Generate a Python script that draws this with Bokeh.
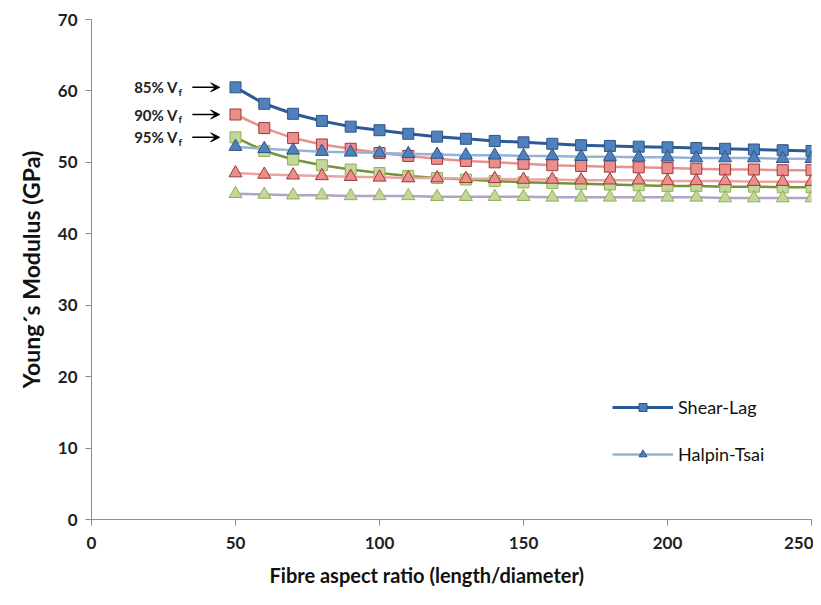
from bokeh.plotting import figure
from bokeh.models import Arrow, VeeHead, Legend, LegendItem, FixedTicker, Title
from bokeh.core.properties import value
from bokeh.embed import file_html
from bokeh.resources import INLINE

aspect_ratio = [50, 60, 70, 80, 90, 100, 110, 120, 130, 140, 150,
                160, 170, 180, 190, 200, 210, 220, 230, 240, 250]

shear_lag_85 = [60.5, 58.2, 56.8, 55.8, 55.0, 54.5, 54.0, 53.6, 53.3, 53.0, 52.8,
                52.6, 52.4, 52.3, 52.2, 52.1, 52.0, 51.9, 51.8, 51.7, 51.6]
shear_lag_90 = [56.7, 54.8, 53.4, 52.5, 51.9, 51.3, 50.9, 50.5, 50.2, 50.0, 49.8,
                49.6, 49.5, 49.4, 49.3, 49.2, 49.1, 49.0, 49.0, 48.9, 48.9]
shear_lag_95 = [53.5, 51.6, 50.4, 49.6, 49.0, 48.5, 48.1, 47.8, 47.6, 47.4, 47.2,
                47.1, 47.0, 46.9, 46.8, 46.7, 46.7, 46.6, 46.6, 46.5, 46.5]

halpin_85 = [52.2, 51.9, 51.7, 51.5, 51.4, 51.3, 51.2, 51.1, 51.0, 51.0, 50.9,
             50.9, 50.8, 50.8, 50.7, 50.7, 50.6, 50.6, 50.6, 50.5, 50.5]
halpin_90 = [48.5, 48.3, 48.2, 48.1, 48.0, 47.9, 47.8, 47.8, 47.7, 47.7, 47.6,
             47.6, 47.5, 47.5, 47.5, 47.4, 47.4, 47.4, 47.3, 47.3, 47.3]
halpin_95 = [45.6, 45.5, 45.4, 45.4, 45.3, 45.3, 45.3, 45.2, 45.2, 45.2, 45.2,
             45.1, 45.1, 45.1, 45.1, 45.1, 45.1, 45.0, 45.0, 45.0, 45.0]

fraction_labels = ["85% V", "90% V", "95% V"]
x_ticks = [0, 50, 100, 150, 200, 250]
y_ticks = [0, 10, 20, 30, 40, 50, 60, 70]
x_title = "Fibre aspect ratio (length/diameter)"
y_title = "Young\u00b4s Modulus (GPa)"

FONT = "Lato"

p = figure(width=813, height=597, x_range=(0, 250), y_range=(0, 70),
           output_backend="svg", toolbar_location=None,
           min_border_left=91, min_border_right=2, min_border_top=19, min_border_bottom=78)
p.outline_line_color = None
p.xgrid.visible = False
p.ygrid.visible = False
p.background_fill_color = "white"

for ax in (p.xaxis[0], p.yaxis[0]):
    ax.axis_line_color = "#8c8c8c"
    ax.axis_line_width = 1
    ax.major_tick_line_color = "#8c8c8c"
    ax.major_tick_out = 6
    ax.major_tick_in = 0
    ax.minor_tick_line_color = None
    ax.major_label_text_font = FONT
    ax.major_label_text_font_style = "bold"
    ax.major_label_text_font_size = "17px"
    ax.major_label_text_color = "#222222"
    ax.axis_label_text_font = FONT
    ax.axis_label_text_font_style = "bold"
    ax.axis_label_text_color = "#111111"

p.xaxis.ticker = FixedTicker(ticks=x_ticks)
p.yaxis.ticker = FixedTicker(ticks=y_ticks)
p.xaxis.major_label_standoff = 11
p.yaxis.major_label_standoff = 8
p.yaxis.axis_label = y_title
p.yaxis.axis_label_text_font_size = "23px"
p.yaxis.axis_label_standoff = 10

# x-axis title, slightly left of the frame centre as in the original
p.add_layout(Title(text=x_title, align="left", offset=178, standoff=18,
                   text_font=FONT, text_font_style="bold", text_font_size="20px",
                   text_color="#111111"), "below")

# Shear-Lag series
sl_specs = [
    (shear_lag_85, "#2c5a96", 3.0, "#4f81bd", "#2f5586"),
    (shear_lag_90, "#e8918f", 2.5, "#eb8f8d", "#9e3835"),
    (shear_lag_95, "#76933a", 2.5, "#c3d69b", "#92b050"),
]
sl_renderers = []
for ys, lc, lw, fc, mc in sl_specs:
    l = p.line(aspect_ratio, ys, line_color=lc, line_width=lw)
    s = p.scatter(aspect_ratio, ys, marker="square", size=11, fill_color=fc,
                  line_color=mc, line_width=1)
    sl_renderers.append((l, s))

# Halpin-Tsai series
ht_specs = [
    (halpin_85, "#95b3d7", "#4f81bd", "#2f5586"),
    (halpin_90, "#e9a3a2", "#eb8f8d", "#9e3835"),
    (halpin_95, "#b3a2c7", "#c3d69b", "#92b050"),
]
ht_renderers = []
for ys, lc, fc, mc in ht_specs:
    l = p.line(aspect_ratio, ys, line_color=lc, line_width=2.5)
    s = p.scatter(aspect_ratio, ys, marker="triangle", size=13, fill_color=fc,
                  line_color=mc, line_width=1)
    ht_renderers.append((l, s))

# Annotations: "xx% Vf" with arrows pointing at the first Shear-Lag point
x0 = aspect_ratio[0]
for lab, ys in zip(fraction_labels, [shear_lag_85, shear_lag_90, shear_lag_95]):
    y0 = ys[0]
    p.text(x=[x0 - 20], y=[y0], text=[lab], text_align="right", text_baseline="middle",
           text_font=value(FONT), text_font_style="bold", text_font_size="15px",
           text_color="#222222")
    p.text(x=[x0 - 19.8], y=[y0 - 0.6], text=["f"], text_align="left", text_baseline="middle",
           text_font=value(FONT), text_font_style="bold", text_font_size="10px",
           text_color="#222222")
    p.add_layout(Arrow(end=VeeHead(size=9, line_color="black", fill_color="black", line_width=1),
                       x_start=x0 - 15, y_start=y0, x_end=x0 - 5.5, y_end=y0,
                       line_color="black", line_width=1.5))

legend = Legend(items=[
    LegendItem(label="Shear-Lag", renderers=[sl_renderers[0][0], sl_renderers[0][1]]),
    LegendItem(label="Halpin-Tsai", renderers=[ht_renderers[0][0], ht_renderers[0][1]]),
], location=(521, 54), orientation="vertical")
legend.background_fill_alpha = 0
legend.border_line_color = None
legend.padding = 0
legend.margin = 0
legend.spacing = 25
legend.glyph_width = 61
legend.glyph_height = 20
legend.label_height = 20
legend.label_standoff = 5
legend.label_text_font = FONT
legend.label_text_font_size = "18px"
legend.label_text_color = "#111111"
p.add_layout(legend, "center")

open("out.html", "w").write(file_html(p, INLINE))
